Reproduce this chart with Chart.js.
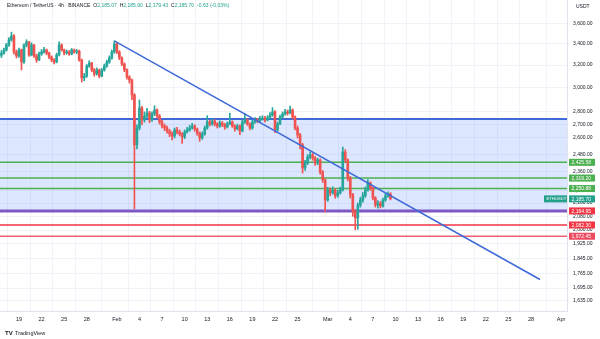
<!DOCTYPE html>
<html>
<head>
<meta charset="utf-8">
<script src="https://cdn.jsdelivr.net/npm/chart.js@4.4.1/dist/chart.umd.min.js"></script>
<style>
html, body { margin: 0; padding: 0; background: #fff; }
canvas { display: block; }
</style>
</head>
<body>
<canvas id="chart" width="600" height="339"></canvas>
<script>
// ETH/USDT, candles (8h steps, day-of-year on x)
const firstCandleDay = 16 + 16 / 24;
const firstOpen = 3290;

const closes = [
  3310,3341,3389,3438,3477,3322,3285,3341,3229,3389,
  3418,3294,3389,3285,3247,3303,3322,3341,3312,3275,
  3247,3229,3294,3389,3341,3312,3322,3303,3341,3322,
  3331,3247,3085,3102,3192,3219,3156,3120,3156,3102,
  3156,3192,3229,3266,3322,3398,3322,3266,3210,3156,
  3093,3067,2939,2549,2675,2832,2737,2768,2792,2737,
  2784,2816,2768,2721,2690,2675,2652,2630,2615,2660,
  2645,2630,2608,2645,2660,2675,2690,2668,2637,2600,
  2630,2675,2721,2706,2729,2706,2690,2714,2698,2683,
  2706,2721,2690,2668,2690,2652,2721,2737,2706,2675,
  2721,2737,2729,2745,2752,2737,2752,2776,2800,2660,
  2706,2760,2784,2800,2792,2816,2760,2675,2622,2549,
  2387,2421,2463,2477,2456,2421,2442,2360,2307,2179,
  2242,2223,2242,2205,2223,2242,2498,2442,2320,2211,
  2106,2070,2148,2179,2205,2242,2288,2255,2192,2148,
  2160,2142,2179,2205,2217,2185.7
];
const highs = [
  3335,3360,3405,3460,3515,3490,3340,3360,3350,3400,
  3440,3425,3410,3395,3300,3320,3345,3365,3350,3320,
  3285,3260,3310,3420,3400,3350,3340,3335,3355,3350,
  3345,3340,3255,3125,3205,3240,3225,3170,3175,3165,
  3170,3210,3245,3285,3340,3428,3405,3335,3275,3220,
  3165,3105,3075,2950,2700,2897,2845,2800,2830,2805,
  2800,2850,2825,2780,2735,2705,2690,2665,2645,2675,
  2680,2660,2640,2660,2680,2695,2710,2700,2675,2645,
  2645,2690,2770,2735,2745,2740,2715,2730,2725,2710,
  2720,2790,2730,2700,2705,2700,2735,2790,2745,2715,
  2735,2755,2750,2765,2770,2765,2770,2795,2835,2810,
  2720,2775,2800,2820,2815,2848,2825,2770,2690,2635,
  2560,2440,2480,2500,2490,2465,2455,2450,2370,2315,
  2260,2255,2262,2250,2240,2260,2534,2515,2450,2330,
  2220,2120,2160,2195,2225,2262,2310,2295,2262,2200,
  2175,2170,2190,2220,2230,2225
];
const lows = [
  3270,3300,3330,3375,3425,3300,3265,3270,3156,3215,
  3370,3280,3285,3270,3225,3240,3290,3310,3295,3260,
  3230,3210,3220,3285,3330,3295,3300,3290,3295,3310,
  3305,3235,3050,3060,3090,3180,3140,3100,3110,3085,
  3095,3145,3180,3215,3255,3310,3305,3250,3195,3140,
  3075,3040,2900,2124,2520,2660,2700,2720,2750,2715,
  2725,2770,2750,2705,2675,2655,2635,2610,2585,2600,
  2630,2615,2560,2595,2635,2650,2665,2650,2620,2575,
  2590,2620,2665,2690,2695,2690,2675,2680,2685,2665,
  2675,2700,2680,2650,2660,2625,2645,2710,2695,2660,
  2665,2710,2715,2720,2735,2720,2730,2745,2765,2640,
  2650,2700,2750,2775,2775,2785,2745,2660,2600,2520,
  2353,2370,2410,2450,2440,2405,2410,2345,2290,2106,
  2170,2205,2215,2190,2195,2215,2235,2425,2300,2190,
  2080,2001,2005,2135,2165,2195,2235,2240,2180,2135,
  2128,2130,2135,2170,2195,2179.43
];

const tickDays = [19,22,25,28,32,35,38,41,44,47,50,53,56,60,63,66,69,72,75,78,81,84,87,91];
const tickLabels = ['19','22','25','28','Feb','4','7','10','13','16','19','22','25','Mar','4','7','10','13','16','19','22','25','28','Apr'];
const priceTicks = [3600,3400,3200,3000,2800,2700,2600,2480,2360,2240,2160,2080,2000,1925,1845,1765,1695,1635];

// drawn levels
const zoneTop = 2745;
const zoneBottom = 2112;
const levelValues = [2425.58, 2319.20, 2250.88, 2112, 2029, 1965];
const levelLabels = ['2,425.58', '2,319.20', '2,250.88', '2,164.95', '2,082.30', '1,972.45'];
const lastPrice = 2185.70;
const lastLabel = '2,185.70';
const trendDays = [31.667, 88.19];
const trendPrices = [3428, 1737];

const header = ['Ethereum / TetherUS · 4h · BINANCE', 'O', '2,185.07', 'H', '2,185.90', 'L', '2,179.43', 'C', '2,185.70', '-0.63 (-0.03%)'];

// styles
const upColor = '#26a69a';
const downColor = '#ef5350';
const levelColors = ['#4caf50', '#4caf50', '#4caf50', '#7e57c2', '#f23645', '#ec6275'];
const tagColors = ['#4caf50', '#4caf50', '#4caf50', '#f23645', '#f23645', '#ec4a60'];
const levelWidths = [1.5, 1.5, 1.5, 3, 1.5, 1.5];
const fontFamily = '"Liberation Sans", Arial, sans-serif';

const xMin = 16.48, xMax = 91.78;
const yMin = 1588, yMax = 3852;

const candleDays = closes.map((c, k) => firstCandleDay + k / 3);
const opens = closes.map((c, k) => k === 0 ? firstOpen : closes[k - 1]);
const candleColors = closes.map((c, k) => c >= opens[k] ? upColor : downColor);

function hline(v) {
    return [{x: xMin, y: v}, {x: xMax, y: v}];
}

let datasets = [];
datasets.push({
    type: 'line',
    data: hline(zoneTop),
    borderColor: '#3f6ad8',
    borderWidth: 2,
    pointRadius: 0,
    fill: {value: zoneBottom},
    backgroundColor: 'rgba(41, 98, 255, 0.16)',
    order: 10
});
for (let i = 0; i < levelValues.length; i++) {
    datasets.push({
        type: 'line',
        data: hline(levelValues[i]),
        borderColor: levelColors[i],
        borderWidth: levelWidths[i],
        pointRadius: 0,
        fill: false,
        order: 5
    });
}
datasets.push({
    type: 'bar',
    data: candleDays.map((d, k) => ({x: d, y: [lows[k], highs[k]]})),
    backgroundColor: candleColors,
    barThickness: 1,
    grouped: false,
    order: 3
});
datasets.push({
    type: 'bar',
    data: candleDays.map((d, k) => ({x: d, y: [Math.min(opens[k], closes[k]), Math.max(opens[k], closes[k])]})),
    backgroundColor: candleColors,
    barThickness: 2,
    grouped: false,
    order: 2
});
datasets.push({
    type: 'line',
    data: trendDays.map((d, i) => ({x: d, y: trendPrices[i]})),
    borderColor: '#3f6ad8',
    borderWidth: 1.5,
    pointRadius: 0,
    fill: false,
    order: 0
});

function tag(ctx, x, y, w, text, color) {
    ctx.fillStyle = color;
    ctx.fillRect(x, y - 3.5, w, 7);
    ctx.fillStyle = '#fff';
    ctx.fillText(text, x + 2.5, y + 0.3);
}

const overlay = {
    id: 'overlay',
    afterDraw(chart) {
        const ctx = chart.ctx;
        const yScale = chart.scales.y;
        const right = chart.chartArea.right;
        ctx.save();
        ctx.textBaseline = 'middle';
        ctx.textAlign = 'left';
        let py = yScale.getPixelForValue(lastPrice);
        ctx.font = '4.2px ' + fontFamily;
        tag(ctx, right - 23, py, 23, 'ETHUSDT', '#22a08c');
        ctx.font = '5px ' + fontFamily;
        for (let i = 0; i < levelValues.length; i++) {
            tag(ctx, right + 2, yScale.getPixelForValue(levelValues[i]), 26, levelLabels[i], tagColors[i]);
        }
        tag(ctx, right + 2, py, 26, lastLabel, '#22a08c');

        ctx.fillStyle = '#131722';
        ctx.fillText('USDT', right + 9, 7);

        // header line
        let x = 7;
        header.forEach((t, i) => {
            ctx.fillStyle = (i === 0 || i % 2 === 1) && i !== 9 ? '#131722' : '#22a08c';
            ctx.fillText(t, x, 6);
            x += ctx.measureText(t).width + ((i === 0 || i % 2 === 0) ? 3 : 0);
        });

        // logo
        ctx.fillStyle = '#131722';
        ctx.font = 'bold 6px ' + fontFamily;
        ctx.fillText('TV', 5, 333);
        ctx.font = '5.5px ' + fontFamily;
        ctx.fillText('TradingView', 15, 333);
        ctx.restore();
    }
};

const chart = new Chart(document.getElementById('chart').getContext('2d'), {
    type: 'bar',
    data: {datasets: datasets},
    options: {
        responsive: false,
        animation: false,
        devicePixelRatio: 1,
        layout: {padding: {left: 0, right: 0, top: 0, bottom: 11}},
        plugins: {legend: {display: false}, tooltip: {enabled: false}},
        scales: {
            x: {
                type: 'linear',
                min: xMin,
                max: xMax,
                offset: false,
                afterBuildTicks: (axis) => { axis.ticks = tickDays.map(v => ({value: v})); },
                afterFit: (axis) => { axis.height = 17; axis.paddingLeft = 0; axis.paddingRight = 0; },
                grid: {color: '#f0f3f8', drawTicks: false},
                border: {color: '#e0e3eb'},
                ticks: {
                    autoSkip: false,
                    maxRotation: 0,
                    padding: 5,
                    color: '#131722',
                    font: {size: 5.5, family: fontFamily},
                    callback: (value) => tickLabels[tickDays.indexOf(value)]
                }
            },
            y: {
                type: 'logarithmic',
                position: 'right',
                min: yMin,
                max: yMax,
                afterBuildTicks: (axis) => { axis.ticks = priceTicks.map(v => ({value: v})); },
                afterFit: (axis) => { axis.width = 33; axis.paddingTop = 0; axis.paddingBottom = 0; },
                grid: {color: '#f0f3f8', drawTicks: false},
                border: {color: '#e0e3eb'},
                ticks: {
                    autoSkip: false,
                    padding: 6,
                    color: '#131722',
                    font: {size: 5, family: fontFamily},
                    callback: (value) => Number(value).toLocaleString('en-US', {minimumFractionDigits: 2, maximumFractionDigits: 2})
                }
            }
        }
    },
    plugins: [overlay]
});
</script>
</body>
</html>
